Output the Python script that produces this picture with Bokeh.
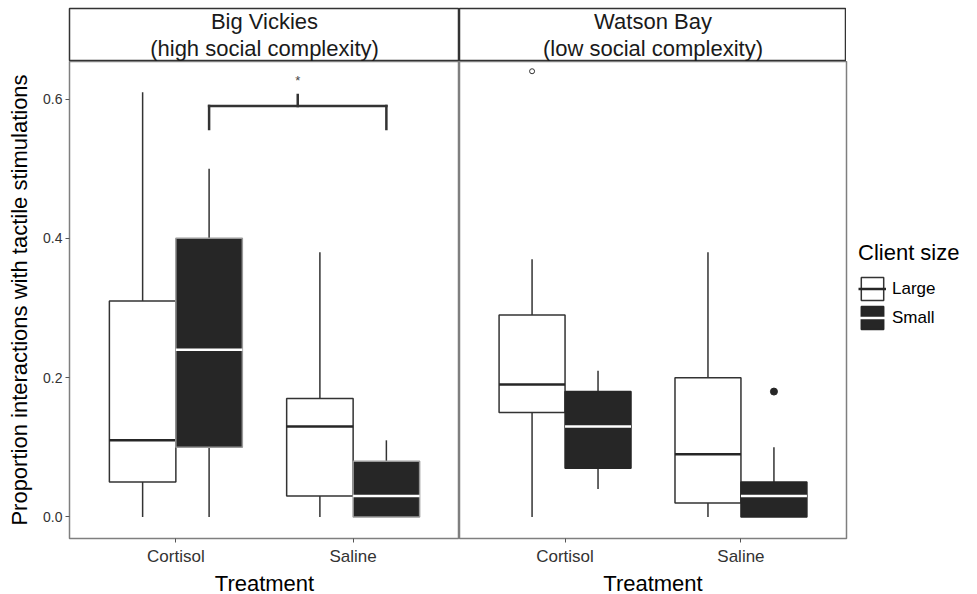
from bokeh.plotting import figure
from bokeh.models import Range1d, FixedTicker, Legend, LegendItem, ColumnDataSource, PrintfTickFormatter
from bokeh.layouts import column, row
from bokeh.embed import file_html
from bokeh.resources import INLINE
from bokeh.core.properties import value

# ---------------- data ----------------
treatments = ["Cortisol", "Saline"]
sizes = ["Large", "Small"]
site_names = ["Big Vickies", "Watson Bay"]
site_notes = ["(high social complexity)", "(low social complexity)"]

# box order inside each site
box_treatment = ["Cortisol", "Cortisol", "Saline", "Saline"]
box_size = ["Large", "Small", "Large", "Small"]

bv_lower = [0.00, 0.00, 0.00, 0.00]
bv_q1 = [0.05, 0.10, 0.03, 0.00]
bv_median = [0.11, 0.24, 0.13, 0.03]
bv_q3 = [0.31, 0.40, 0.17, 0.08]
bv_upper = [0.61, 0.50, 0.38, 0.11]

wb_lower = [0.00, 0.04, 0.00, 0.00]
wb_q1 = [0.15, 0.07, 0.02, 0.00]
wb_median = [0.19, 0.13, 0.09, 0.03]
wb_q3 = [0.29, 0.18, 0.20, 0.05]
wb_upper = [0.37, 0.21, 0.38, 0.10]

wb_out_treatment = ["Cortisol", "Saline"]
wb_out_size = ["Large", "Small"]
wb_out_value = [0.64, 0.18]
wb_out_filled = [False, True]

# significance bracket in Big Vickies: Cortisol-Small vs Saline-Small
sig_from = ("Cortisol", "Small")
sig_to = ("Saline", "Small")
sig_bar_y = 0.590
sig_arm_y = 0.557
sig_tick_y = 0.606
sig_label_y = 0.627
sig_label = "*"

y_ticks = [0.0, 0.2, 0.4, 0.6]

# ---------------- styling ----------------
FONT = "Liberation Sans"
DODGE = 0.1875
BOX_W = 0.375
FILL = {"Large": "#ffffff", "Small": "#262626"}
MEDIAN = {"Large": "#262626", "Small": "#ffffff"}
PAD = 8


def xpos(t, s):
    return treatments.index(t) + 1 + (-DODGE if s == "Large" else DODGE)


y_rng = Range1d(-0.031, 0.654)


def make_panel(lower, q1, med, q3, upper, frame_w, left_axis, right_border, small_line):
    p = figure(frame_width=frame_w, frame_height=477,
               x_range=Range1d(0.4, 2.6), y_range=y_rng,
               output_backend="svg", toolbar_location=None,
               y_axis_location="left" if left_axis else None,
               min_border_left=61 + PAD if left_axis else 0, min_border_right=right_border,
               min_border_top=0, min_border_bottom=0)
    p.grid.visible = False
    p.outline_line_color = "#7f7f7f"
    p.outline_line_width = 1.5
    p.background_fill_color = "white"
    p.border_fill_color = "white"

    xa = p.xaxis[0]
    xa.ticker = FixedTicker(ticks=[1, 2])
    xa.major_label_overrides = {1: treatments[0], 2: treatments[1]}
    xa.axis_label = "Treatment"
    xa.axis_label_text_font = FONT
    xa.axis_label_text_font_size = "22px"
    xa.axis_label_text_font_style = "normal"
    xa.axis_label_text_color = "#000000"
    xa.axis_label_standoff = 2
    xa.major_label_text_font = FONT
    xa.major_label_text_font_size = "17px"
    xa.major_label_text_color = "#333333"
    xa.major_label_standoff = 4
    xa.axis_line_color = None
    xa.major_tick_in = 0
    xa.major_tick_out = 4
    xa.major_tick_line_color = "#555555"
    xa.minor_tick_line_color = None

    if left_axis:
        ya = p.yaxis[0]
        ya.ticker = FixedTicker(ticks=y_ticks)
        ya.formatter = PrintfTickFormatter(format="%.1f")
        ya.axis_label = "Proportion interactions with tactile stimulations"
        ya.axis_label_text_font = FONT
        ya.axis_label_text_font_size = "22px"
        ya.axis_label_text_font_style = "normal"
        ya.axis_label_text_color = "#000000"
        ya.axis_label_standoff = 8
        ya.major_label_text_font = FONT
        ya.major_label_text_font_size = "14px"
        ya.major_label_text_color = "#333333"
        ya.major_label_standoff = 3
        ya.axis_line_color = None
        ya.major_tick_in = 0
        ya.major_tick_out = 4
        ya.major_tick_line_color = "#555555"
        ya.minor_tick_line_color = None

    rends = {}
    for s in sizes:
        idx = [i for i, bs in enumerate(box_size) if bs == s]
        xs = [xpos(box_treatment[i], s) for i in idx]
        src = ColumnDataSource(dict(
            x=xs,
            left=[x - BOX_W / 2 for x in xs],
            right=[x + BOX_W / 2 for x in xs],
            lower=[lower[i] for i in idx], q1=[q1[i] for i in idx],
            med=[med[i] for i in idx], q3=[q3[i] for i in idx],
            upper=[upper[i] for i in idx]))
        line_c = "#333333" if s == "Large" else small_line
        p.segment(x0="x", y0="lower", x1="x", y1="q1", source=src,
                  line_color="#333333", line_width=1.5)
        p.segment(x0="x", y0="q3", x1="x", y1="upper", source=src,
                  line_color="#333333", line_width=1.5)
        q = p.quad(left="left", right="right", bottom="q1", top="q3", source=src,
                   fill_color=FILL[s], line_color=line_c, line_width=1.5)
        m = p.segment(x0="left", y0="med", x1="right", y1="med", source=src,
                      line_color=MEDIAN[s], line_width=2.5)
        rends[s] = [q, m]
    return p, rends


def make_strip(name, note, frame_w, left):
    s = figure(frame_width=frame_w, frame_height=53,
               x_range=Range1d(0, 1), y_range=Range1d(0, 1),
               x_axis_location=None, y_axis_location=None,
               min_border_left=left, min_border_right=0,
               min_border_top=PAD, min_border_bottom=0,
               output_backend="svg", toolbar_location=None)
    s.grid.visible = False
    s.outline_line_color = "#333333"
    s.outline_line_width = 1.5
    s.background_fill_color = "white"
    s.text(x=[0.5], y=[0.76], text=[name], text_align="center",
           text_baseline="middle", text_font=value(FONT), text_font_size="22px",
           text_color="#1a1a1a")
    s.text(x=[0.5], y=[0.24], text=[note], text_align="center",
           text_baseline="middle", text_font=value(FONT), text_font_size="22px",
           text_color="#1a1a1a")
    return s


p1, r1 = make_panel(bv_lower, bv_q1, bv_median, bv_q3, bv_upper, 390, True, 0, "#999999")
p2, r2 = make_panel(wb_lower, wb_q1, wb_median, wb_q3, wb_upper, 387, False, 115, "#262626")

# significance bracket
x_a = xpos(*sig_from)
x_b = xpos(*sig_to)
x_mid = (x_a + x_b) / 2
p1.segment(x0=[x_a, x_a, x_b, x_mid], y0=[sig_arm_y, sig_bar_y, sig_arm_y, sig_bar_y],
           x1=[x_a, x_b, x_b, x_mid], y1=[sig_bar_y, sig_bar_y, sig_bar_y, sig_tick_y],
           line_color="#333333", line_width=2.5, line_cap="square")
p1.text(x=[x_mid], y=[sig_label_y], text=[sig_label], text_align="center",
        text_baseline="middle", text_font=value(FONT), text_font_size="13px",
        text_color="#444444")

# outliers in Watson Bay
ox = [xpos(t, s) for t, s in zip(wb_out_treatment, wb_out_size)]
hol = [i for i, f in enumerate(wb_out_filled) if not f]
fil = [i for i, f in enumerate(wb_out_filled) if f]
p2.scatter(x=[ox[i] for i in hol], y=[wb_out_value[i] for i in hol], marker="circle",
           size=5, fill_color=None, line_color="#333333", line_width=1)
p2.scatter(x=[ox[i] for i in fil], y=[wb_out_value[i] for i in fil], marker="circle",
           size=7, fill_color="#262626", line_color="#262626")

legend = Legend(items=[LegendItem(label=sizes[0], renderers=r2["Large"]),
                       LegendItem(label=sizes[1], renderers=r2["Small"])],
                location=(12, 206), title="Client size")
legend.title_text_font = FONT
legend.title_text_font_size = "22px"
legend.title_text_font_style = "normal"
legend.title_text_color = "#000000"
legend.title_standoff = 8
legend.label_text_font = FONT
legend.label_text_font_size = "17px"
legend.label_text_color = "#000000"
legend.glyph_width = 28
legend.glyph_height = 29
legend.spacing = 0
legend.padding = 4
legend.margin = 0
legend.label_standoff = 6
legend.border_line_color = None
legend.background_fill_alpha = 0
p2.add_layout(legend, "right")

s1 = make_strip(site_names[0], site_notes[0], 390, 61 + PAD)
s2 = make_strip(site_names[1], site_notes[1], 387, 0)

layout = column(row(s1, s2), row(p1, p2))
open("out.html", "w").write(file_html(layout, INLINE))
